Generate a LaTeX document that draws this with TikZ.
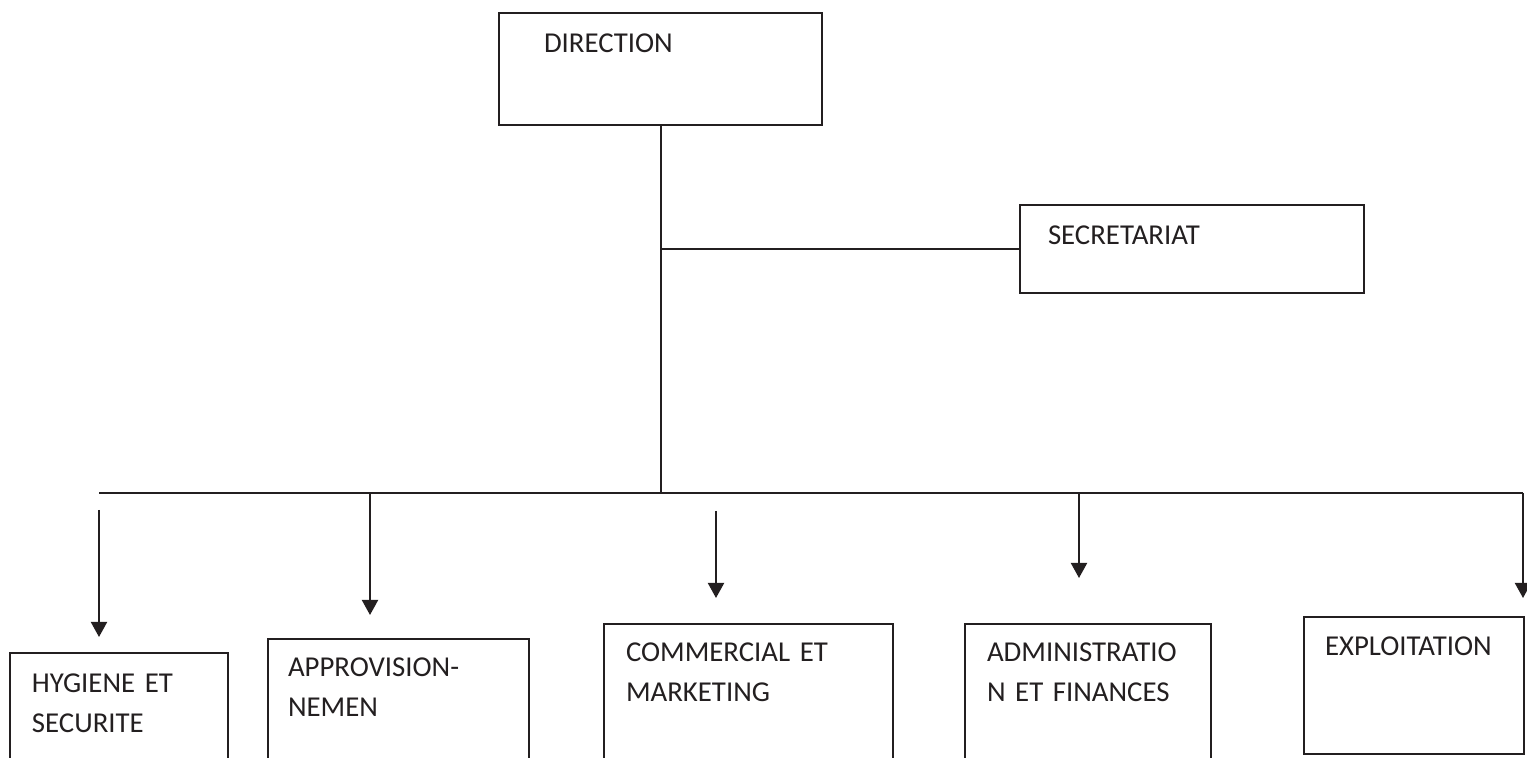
\documentclass[tikz,border=0pt]{standalone}
\usepackage{fontspec}
\setmainfont{Carlito}
\usepackage{tikz}
\usetikzlibrary{arrows.meta,positioning}
\definecolor{ink}{HTML}{231F20}
\tikzset{
  base/.style={
    draw=ink,
    line width=1pt,
    anchor=north west,
    align=left,
    text=ink,
    text height=0pt,
    font={\fontsize{14.4}{19.75}\selectfont},
  },
  component/.style={
    base,
  },
  edge/.style={
    draw=ink,
    line width=1pt,
  },
  post/.style={
    edge,-{Triangle[width=8pt,length=7.5pt]},
  }
}
\begin{document}
\begin{tikzpicture}[x=0.5pt,y=-0.5pt]
    \useasboundingbox (0,0) rectangle (1527,758);
    \clip (0,0) rectangle (1527,758);

    \node [component, inner xsep=22.5pt, inner ysep=20pt, text width=116.5pt,
      text depth=16pt] (direction) at (498,12) {DIRECTION};
    \node [component, inner xsep=14pt, inner ysep=20pt, text width=144pt,
      text depth=4pt] (secretariat) at (1019,204) {SECRETARIAT};

    % Services
    \node [component, inner xsep=11pt, inner ysep=20pt, text width=87pt,
      text depth=35pt] (hygiene) at (9,652) {HYGIENE ET\\SECURITE};
    \node [component, inner xsep=10pt, inner ysep=19pt, text width=110.5pt,
      text depth=37pt] (approvisionnement) at (267,638) {APPROVISION-\\NEMEN};
    \node [component, inner xsep=11pt, inner ysep=19pt, text width=122.5pt,
      text depth=37pt] (commercial) at (603,623) {COMMERCIAL ET\\MARKETING};
    \node [component, inner xsep=11pt, inner ysep=19pt, text width=101pt,
      text depth=37pt] (administration) at (964,623) {ADMINISTRATIO\\N ET FINANCES};
    \node [component, inner xsep=10.5pt, inner ysep=19.5pt, text width=89pt,
      text depth=29.5pt] (exploitation) at (1303,616) {EXPLOITATION};

    % Bus
    \coordinate (bus-left) at (99,493);
    \coordinate (bus-right) at (1523,493);
    \draw[edge] (direction.south) -- (direction.south |- bus-left);
    \draw[edge] (secretariat.west) -- (secretariat.west -| direction.south);
    \draw[edge] (bus-left) -- (bus-right);

    % Arrows
    \coordinate (hygiene-in) at (99,510);
    \coordinate (hygiene-tip) at (99,637);
    \coordinate (approvisionnement-in) at (370,493);
    \coordinate (approvisionnement-tip) at (370,615);
    \coordinate (commercial-in) at (716,511);
    \coordinate (commercial-tip) at (716,598);
    \coordinate (administration-in) at (1079,493);
    \coordinate (administration-tip) at (1079,578);
    \coordinate (exploitation-tip) at (1523,598);

    \draw[post] (hygiene-in) -- (hygiene-tip);
    \draw[post] (approvisionnement-in) -- (approvisionnement-tip);
    \draw[post] (commercial-in) -- (commercial-tip);
    \draw[post] (administration-in) -- (administration-tip);
    \draw[post] (bus-right) -- (exploitation-tip);
\end{tikzpicture}
\end{document}
